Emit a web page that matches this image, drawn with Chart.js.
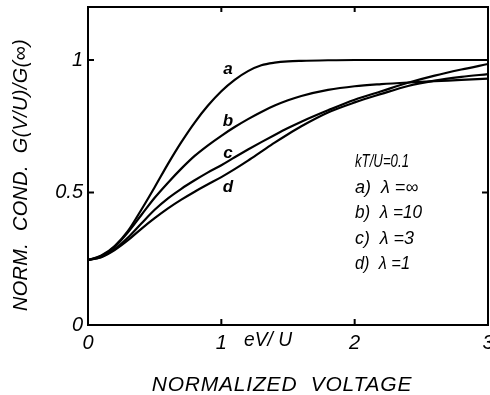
<!DOCTYPE html>
<html>
<head>
<meta charset="utf-8">
<script src="https://cdn.jsdelivr.net/npm/chart.js@4"></script>
<style>
  html, body { margin: 0; padding: 0; background: #fff; }
</style>
</head>
<body>
<canvas id="cond-chart" width="490" height="395"></canvas>
<script>
// eV/U values and normalized conductance
const voltage = [0, 0.1, 0.2, 0.3, 0.4, 0.5, 0.6, 0.7, 0.8, 0.9, 1.0, 1.1, 1.2, 1.3, 1.4, 1.5, 1.6, 1.8, 2.0, 2.2, 2.4, 2.6, 2.8, 3.0];
const condA = [0.245, 0.262, 0.298, 0.355, 0.435, 0.520, 0.608, 0.690, 0.764, 0.828, 0.882, 0.925, 0.958, 0.980, 0.990, 0.995, 0.997, 0.999, 1.0, 1.0, 1.0, 1.0, 1.0, 1.0];
const condB = [0.245, 0.260, 0.295, 0.350, 0.415, 0.480, 0.537, 0.590, 0.638, 0.678, 0.714, 0.747, 0.777, 0.804, 0.828, 0.848, 0.864, 0.887, 0.901, 0.909, 0.915, 0.920, 0.925, 0.930];
const condC = [0.245, 0.257, 0.286, 0.330, 0.383, 0.435, 0.478, 0.514, 0.546, 0.576, 0.603, 0.633, 0.662, 0.690, 0.717, 0.743, 0.767, 0.810, 0.850, 0.882, 0.914, 0.941, 0.964, 0.985];
const condD = [0.245, 0.256, 0.283, 0.320, 0.363, 0.403, 0.440, 0.473, 0.503, 0.531, 0.558, 0.588, 0.620, 0.654, 0.688, 0.720, 0.750, 0.802, 0.840, 0.872, 0.902, 0.922, 0.936, 0.947];

const xTicks = [0, 1, 2, 3];
const yTicks = [0, 0.5, 1];
const curveNames = ['a', 'b', 'c', 'd'];
const legendLines = ['kT/U=0.1', 'a)  λ =∞', 'b)  λ =10', 'c)  λ =3', 'd)  λ =1'];

const FONT = "'Liberation Sans', Arial, sans-serif";

function toPoints(ys) {
    return voltage.map((v, i) => ({ x: v, y: ys[i] }));
}

// cadre, tirets intérieurs et textes
const framePlugin = {
    id: 'frame',
    afterDraw(chart) {
        const { ctx, chartArea: a } = chart;
        const sx = chart.scales.x, sy = chart.scales.y;

        ctx.save();
        ctx.strokeStyle = '#000';
        ctx.lineWidth = 2;
        ctx.strokeRect(a.left, a.top, a.right - a.left, a.bottom - a.top);

        ctx.beginPath();
        xTicks.slice(1, -1).forEach(v => {
            const px = sx.getPixelForValue(v);
            ctx.moveTo(px, a.bottom); ctx.lineTo(px, a.bottom - 6);
            ctx.moveTo(px, a.top); ctx.lineTo(px, a.top + 5);
        });
        yTicks.slice(1).forEach(v => {
            const py = sy.getPixelForValue(v);
            ctx.moveTo(a.left, py); ctx.lineTo(a.left + 6, py);
            ctx.moveTo(a.right, py); ctx.lineTo(a.right - 6, py);
        });
        ctx.stroke();

        ctx.fillStyle = '#000';
        ctx.textBaseline = 'middle';

        // étiquettes des courbes
        ctx.font = 'italic bold 17px ' + FONT;
        ctx.textAlign = 'center';
        const labelY = [69, 121, 153, 187];
        curveNames.forEach((n, i) => ctx.fillText(n, 228, labelY[i]));

        // légende
        ctx.font = 'italic 18px ' + FONT;
        ctx.textAlign = 'left';
        const legW = [54, 74, 67, 59, 55];
        legendLines.forEach((t, i) => ctx.fillText(t, 355, 162 + i * 25.5, legW[i]));

        // eV/U sur l'axe x
        ctx.font = 'italic 20px ' + FONT;
        ctx.fillText('eV/ U', 244, 340, 48);

        // titre de l'axe x
        ctx.font = 'italic 21px ' + FONT;
        ctx.textAlign = 'center';
        ctx.letterSpacing = '0.8px';
        ctx.fillText('NORMALIZED  VOLTAGE', 282, 385);

        // titre de l'axe y
        ctx.translate(21, 175);
        ctx.rotate(-Math.PI / 2);
        ctx.letterSpacing = '0.4px';
        ctx.fillText('NORM.  COND.  G(V/U)/G(∞)', 0, 0, 272);
        ctx.restore();
    }
};

const makeSet = (ys) => ({
    data: toPoints(ys),
    borderColor: '#000',
    borderWidth: 2.2,
    pointRadius: 0,
    fill: false,
    cubicInterpolationMode: 'monotone'
});

new Chart(document.getElementById('cond-chart'), {
    type: 'line',
    data: {
        datasets: [makeSet(condA), makeSet(condB), makeSet(condC), makeSet(condD)]
    },
    options: {
        responsive: false,
        animation: false,
        layout: { padding: { top: 7, right: 2, left: 0, bottom: 0 } },
        plugins: {
            legend: { display: false },
            tooltip: { enabled: false }
        },
        scales: {
            x: {
                type: 'linear',
                min: 0,
                max: 3,
                afterFit: s => {
                    s.height = 70;
                    s.paddingLeft = 0; s.paddingRight = 0;
                },
                afterBuildTicks: s => { s.ticks = xTicks.map(v => ({ value: v })); },
                grid: { display: false, drawTicks: false },
                border: { display: false },
                ticks: {
                    color: '#000',
                    padding: 6,
                    maxRotation: 0,
                    callback: v => String(v),
                    font: { family: FONT, size: 20, style: 'italic' }
                }
            },
            y: {
                min: 0,
                max: 1.2,
                afterFit: s => {
                    s.width = 88;
                    s.paddingTop = 0; s.paddingBottom = 0;
                },
                afterBuildTicks: s => { s.ticks = yTicks.map(v => ({ value: v })); },
                grid: { display: false, drawTicks: false },
                border: { display: false },
                ticks: {
                    color: '#000',
                    padding: 5,
                    callback: v => String(v),
                    font: { family: FONT, size: 20, style: 'italic' }
                }
            }
        }
    },
    plugins: [framePlugin]
});
</script>
</body>
</html>
